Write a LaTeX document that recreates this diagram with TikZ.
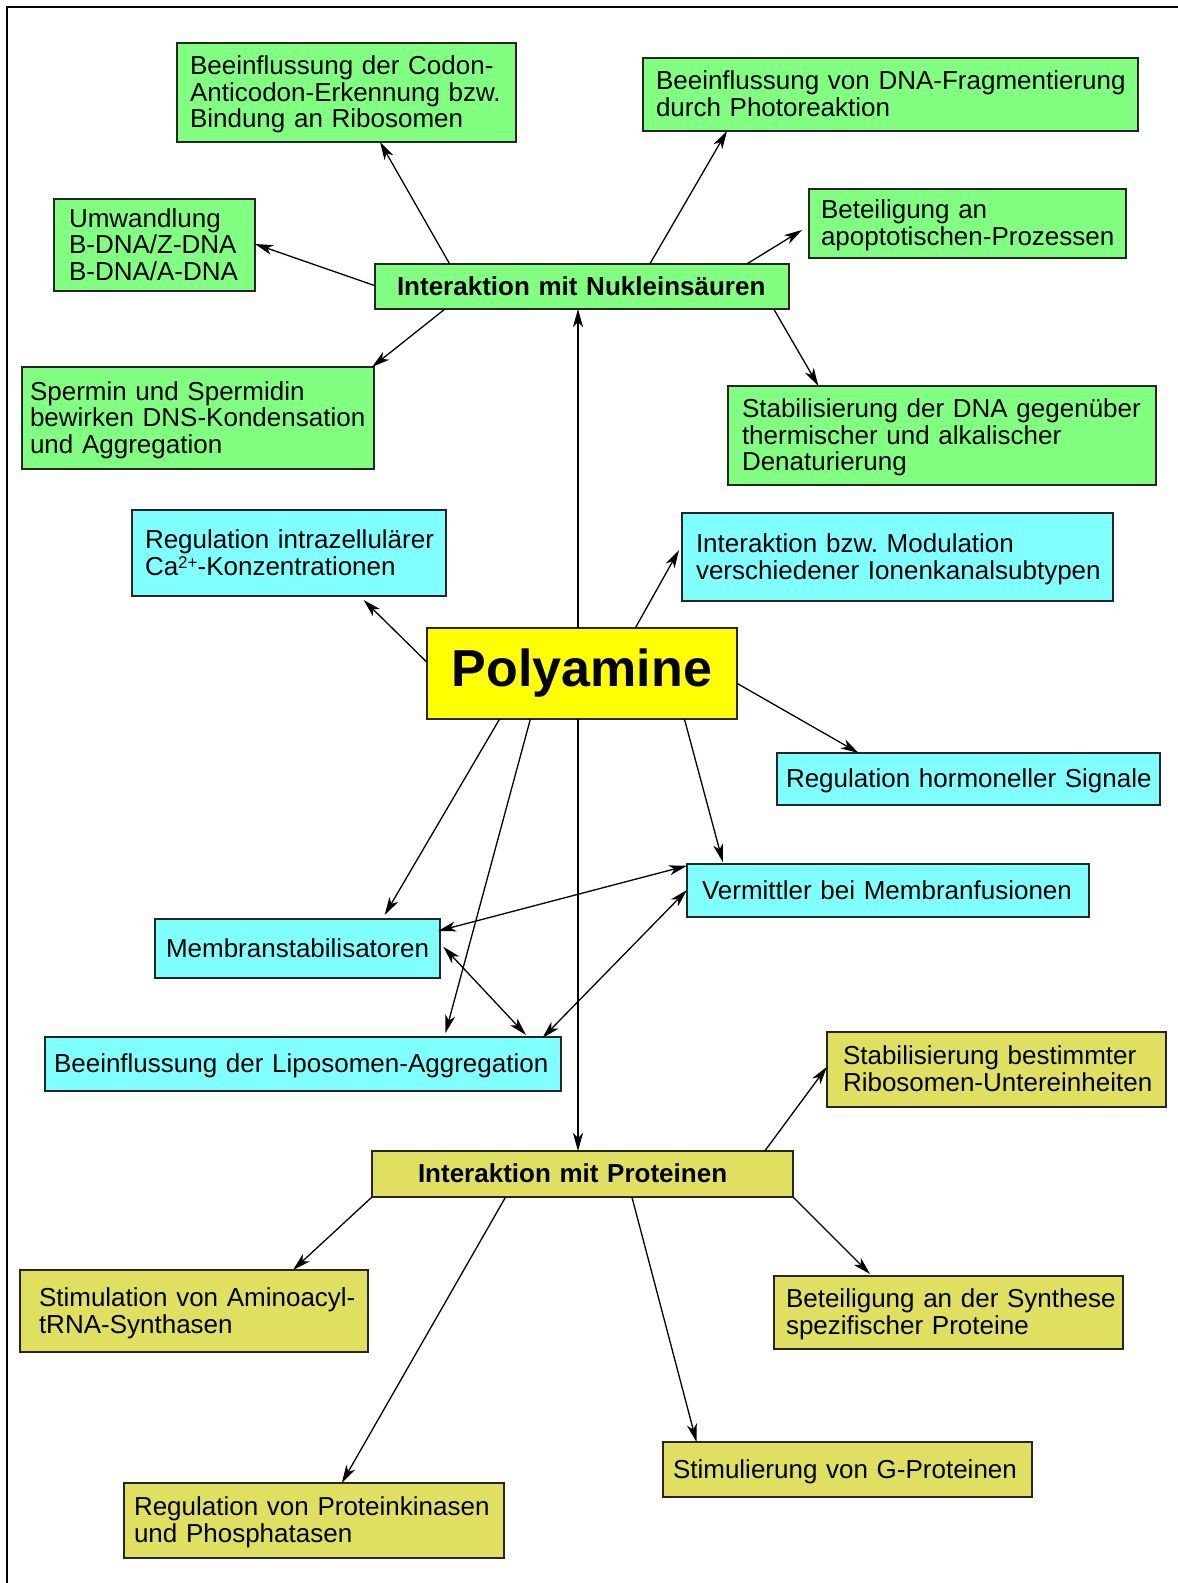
\documentclass[tikz,border=0pt]{standalone}
\usepackage{fontspec}
\setmainfont{Liberation Sans}
\usetikzlibrary{arrows.meta,calc}
\definecolor{grn}{RGB}{128,255,128}
\definecolor{cyn}{RGB}{128,255,255}
\definecolor{ylw}{RGB}{255,255,0}
\definecolor{khk}{RGB}{224,224,96}
\newcommand\Lx[1]{\mbox{#1}}
\frenchspacing
\begin{document}
\begin{tikzpicture}[x=1pt,y=-1pt,
 box/.style={draw=black!85,line width=1.4pt,anchor=north west,outer sep=0pt,inner ysep=0pt,align=left,font=\fontsize{26}{26.6}\selectfont,
   execute at begin node={\rule{0pt}{23pt}}, execute at end node={\rule[-5.5pt]{0pt}{5.5pt}}},
 bbox/.style={box,font=\fontsize{26}{26.6}\selectfont\bfseries},
 conn/.style={line width=1.3pt,-{Stealth[length=18pt,width=10pt,inset=5pt]}},
 dconn/.style={line width=1.3pt,{Stealth[length=18pt,width=10pt,inset=5pt]}-{Stealth[length=18pt,width=10pt,inset=5pt]}}]
\useasboundingbox (0,0) rectangle (1178,1583);
\draw[line width=2.5pt] (7,7) rectangle (1200,1600);

% green
\node[box,fill=grn,minimum width=339pt,minimum height=99pt,inner xsep=13pt,text width=313pt] (codon) at (177,43) {\Lx{Beeinflussung der Codon-}\\\Lx{Anticodon-Erkennung bzw.}\\\Lx{Bindung an Ribosomen}};
\node[box,fill=grn,minimum width=495pt,minimum height=73pt,inner xsep=13pt,text width=469pt] (frag) at (643,58) {\Lx{Beeinflussung von DNA-Fragmentierung}\\\Lx{durch Photoreaktion}};
\node[box,fill=grn,minimum width=317pt,minimum height=69pt,inner xsep=12pt,text width=293pt] (apop) at (809,189) {\Lx{Beteiligung an}\\\Lx{apoptotischen-Prozessen}};
\node[box,fill=grn,minimum width=201pt,minimum height=92pt,inner xsep=15pt,text width=171pt] (umw) at (54,199) {\Lx{Umwandlung}\\\Lx{B-DNA/Z-DNA}\\\Lx{B-DNA/A-DNA}};
\node[bbox,fill=grn,minimum width=414pt,minimum height=45pt,inner xsep=22pt,text width=370pt] (N) at (375,264) {\Lx{Interaktion mit Nukleinsäuren}};
\node[box,fill=grn,minimum width=352pt,minimum height=102pt,inner xsep=8pt,text width=336pt] (sperm) at (22,367) {\Lx{Spermin und Spermidin}\\\Lx{bewirken DNS-Kondensation}\\\Lx{und Aggregation}};
\node[box,fill=grn,minimum width=428pt,minimum height=99pt,inner xsep=14pt,text width=400pt] (stabdna) at (728,386) {\Lx{Stabilisierung der DNA gegenüber}\\\Lx{thermischer und alkalischer}\\\Lx{Denaturierung}};

% cyan
\node[box,fill=cyn,minimum width=314pt,minimum height=86pt,inner xsep=13pt,text width=288pt] (ca) at (132,510) {\Lx{Regulation intrazellulärer}\\\Lx{Ca\raisebox{7pt}{\fontsize{17}{17}\selectfont 2+}-Konzentrationen}};
\node[box,fill=cyn,minimum width=431pt,minimum height=88pt,inner xsep=14pt,text width=403pt] (ion) at (682,513) {\Lx{Interaktion bzw. Modulation}\\\Lx{verschiedener Ionenkanalsubtypen}};
\node[box,fill=ylw,minimum width=310pt,minimum height=91pt,inner xsep=0pt,align=center,font=\fontsize{52}{56}\selectfont\bfseries] (P) at (427,628) {Polyamine};
\node[box,fill=cyn,minimum width=383pt,minimum height=52pt,inner xsep=9pt,text width=365pt] (horm) at (777,753) {\Lx{Regulation hormoneller Signale}};
\node[box,fill=cyn,minimum width=402pt,minimum height=53pt,inner xsep=15pt,text width=372pt] (verm) at (687,864) {\Lx{Vermittler bei Membranfusionen}};
\node[box,fill=cyn,minimum width=285pt,minimum height=59pt,inner xsep=11pt,text width=263pt] (memb) at (155,919) {\Lx{Membranstabilisatoren}};
\node[box,fill=cyn,minimum width=516pt,minimum height=54pt,inner xsep=9pt,text width=498pt] (lipo) at (45,1037) {\Lx{Beeinflussung der Liposomen-Aggregation}};

% khaki
\node[box,fill=khk,minimum width=339pt,minimum height=75pt,inner xsep=16pt,text width=307pt] (ribo) at (827,1032) {\Lx{Stabilisierung bestimmter}\\\Lx{Ribosomen-Untereinheiten}};
\node[bbox,fill=khk,minimum width=421pt,minimum height=46pt,inner xsep=46pt,text width=329pt] (Pr) at (372,1151) {\Lx{Interaktion mit Proteinen}};
\node[box,fill=khk,minimum width=348pt,minimum height=82pt,inner xsep=19pt,text width=310pt] (amino) at (20,1270) {\Lx{Stimulation von Aminoacyl-}\\\Lx{tRNA-Synthasen}};
\node[box,fill=khk,minimum width=349pt,minimum height=73pt,inner xsep=12pt,text width=325pt] (synth) at (774,1276) {\Lx{Beteiligung an der Synthese}\\\Lx{spezifischer Proteine}};
\node[box,fill=khk,minimum width=369pt,minimum height=55pt,inner xsep=10pt,text width=349pt] (gprot) at (663,1442) {\Lx{Stimulierung von G-Proteinen}};
\node[box,fill=khk,minimum width=380pt,minimum height=75pt,inner xsep=10pt,text width=360pt] (kin) at (124,1483) {\Lx{Regulation von Proteinkinasen}\\\Lx{und Phosphatasen}};

% connectors from Nukleinsaeuren
\draw[conn] ($(N.north west)+(74.7,0)$) -- ($(codon.south west)+(203,0)$);
\draw[conn] ($(N.north west)+(0,21.7)$) -- ($(umw.north east)+(0,45)$);
\draw[conn] ($(N.north west)+(274.8,0)$) -- ($(frag.south west)+(84,0)$);
\draw[conn] ($(N.north west)+(371.7,0)$) -- ($(apop.north west)+(-7,41)$);
\draw[conn] ($(N.south west)+(70,0)$) -- ($(sperm.north east)+(-2,0)$);
\draw[conn] ($(N.south west)+(398.7,0)$) -- ($(stabdna.north west)+(90.4,0)$);

% connectors from Polyamine
\draw[conn] ($(P.north west)+(151,0)$) -- ($(N.south west)+(203,0)$);
\draw[conn] ($(P.south west)+(151,0)$) -- ($(Pr.north west)+(206,0)$);
\draw[conn] ($(P.north west)+(0,34.3)$) -- ($(ca.south west)+(231.6,4)$);
\draw[conn] ($(P.north west)+(208.3,0)$) -- ($(ion.north west)+(-3,37)$);
\draw[conn] ($(P.north east)+(0,55.3)$) -- ($(horm.north west)+(81.7,0)$);
\draw[conn] ($(P.south west)+(72.6,0)$) -- ($(memb.north west)+(229.7,-4)$);
\draw[conn] ($(P.south west)+(103.4,0)$) -- ($(lipo.north west)+(400.5,-4)$);
\draw[conn] ($(P.south west)+(257.4,0)$) -- ($(verm.north west)+(35.8,-2)$);

% membrane triangle
\draw[dconn] ($(verm.north west)+(0,1.7)$) -- ($(memb.north east)+(-2,12)$);
\draw[dconn] ($(memb.north east)+(3.3,27.7)$) -- ($(lipo.north west)+(481,-2)$);
\draw[dconn] ($(lipo.north west)+(497.4,1)$) -- ($(verm.north west)+(0,26)$);

% connectors from Proteinen
\draw[conn] ($(Pr.north west)+(392.8,0)$) -- ($(ribo.north west)+(0,34.7)$);
\draw[conn] (Pr.south west) -- ($(amino.north west)+(273,0)$);
\draw[conn] ($(Pr.south west)+(133.6,0)$) -- ($(kin.north west)+(217.8,0)$);
\draw[conn] ($(Pr.south west)+(259.9,0)$) -- ($(gprot.north west)+(33.5,0)$);
\draw[conn] (Pr.south east) -- ($(synth.north west)+(96,-2)$);
\end{tikzpicture}
\end{document}
